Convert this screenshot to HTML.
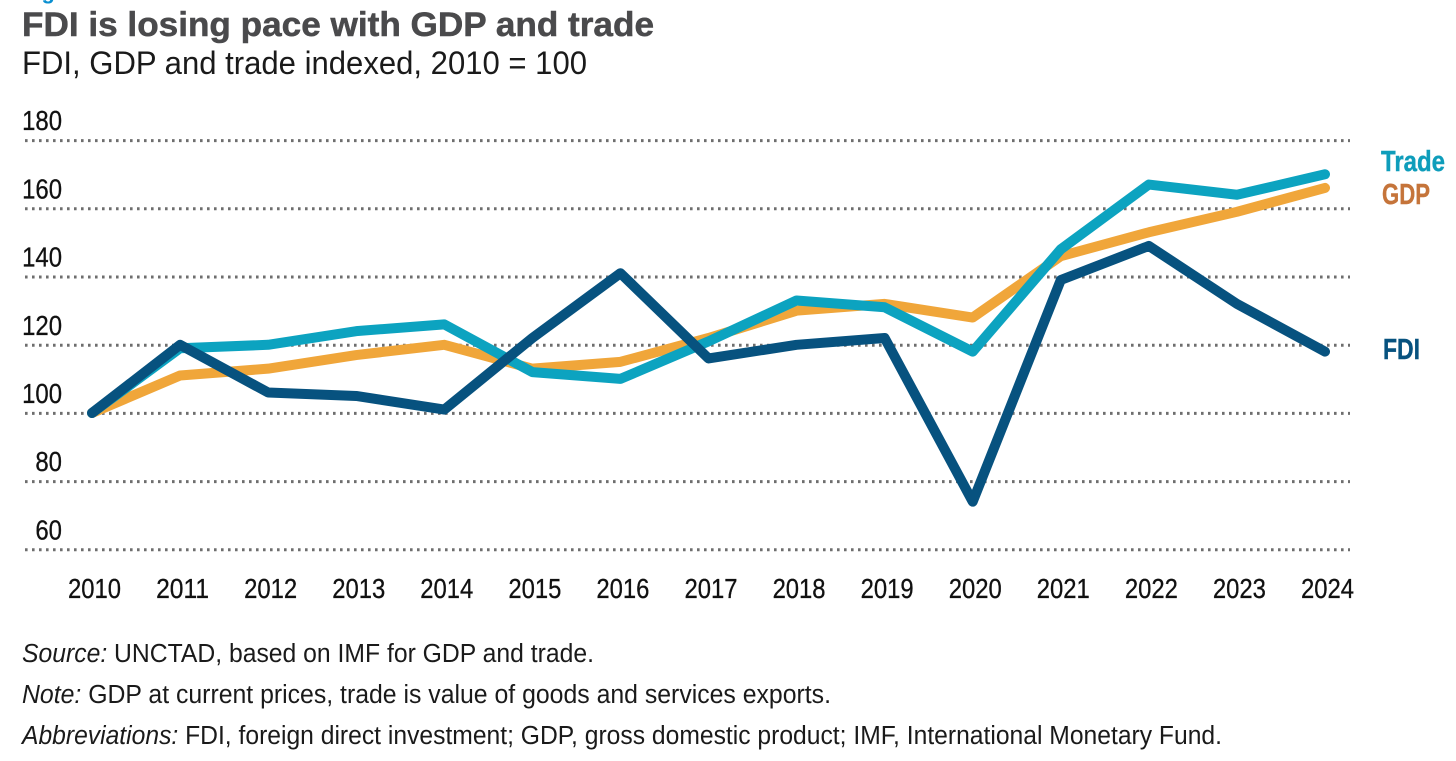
<!DOCTYPE html>
<html lang="en">
<head>
<meta charset="utf-8">
<title>FDI is losing pace with GDP and trade</title>
<style>
html,body{margin:0;padding:0;background:#fff;width:1456px;height:761px;overflow:hidden}
svg{display:block;font-family:"Liberation Sans",Arial,sans-serif}
</style>
</head>
<body>
<svg id="chart" width="1456" height="761" viewBox="0 0 1456 761" xmlns="http://www.w3.org/2000/svg">
  <text x="22" y="-1" font-size="22" font-weight="700" fill="#0a8fd0">Figure</text>
  <text x="22" y="36" font-size="34" font-weight="700" fill="#4a4a4c" stroke="#4a4a4c" stroke-width="0.5" textLength="632" lengthAdjust="spacingAndGlyphs">FDI is losing pace with GDP and trade</text>
  <text x="22" y="74" font-size="32" fill="#1a1a1a" textLength="565" lengthAdjust="spacingAndGlyphs">FDI, GDP and trade indexed, 2010 = 100</text>
  <g id="grid"></g>
  <g id="y-axis"></g>
  <g id="x-axis"></g>
  <g id="series"></g>
  <text x="1381" y="171" font-size="29" font-weight="700" fill="#0e9dbb" stroke="#0e9dbb" stroke-width="0.4" textLength="64" lengthAdjust="spacingAndGlyphs">Trade</text>
  <text x="1382" y="204" font-size="29" font-weight="700" fill="#c5743a" stroke="#c5743a" stroke-width="0.4" textLength="48" lengthAdjust="spacingAndGlyphs">GDP</text>
  <text x="1383" y="359" font-size="29" font-weight="700" fill="#07527f" stroke="#07527f" stroke-width="0.4" textLength="37" lengthAdjust="spacingAndGlyphs">FDI</text>
  <text x="22" y="662" font-size="25.5" fill="#1a1a1a" textLength="572" lengthAdjust="spacingAndGlyphs"><tspan font-style="italic">Source:</tspan> UNCTAD, based on IMF for GDP and trade.</text>
  <text x="22" y="703" font-size="25.5" fill="#1a1a1a" textLength="809" lengthAdjust="spacingAndGlyphs"><tspan font-style="italic">Note:</tspan> GDP at current prices, trade is value of goods and services exports.</text>
  <text x="22" y="744" font-size="25.5" fill="#1a1a1a" textLength="1200" lengthAdjust="spacingAndGlyphs"><tspan font-style="italic">Abbreviations:</tspan> FDI, foreign direct investment; GDP, gross domestic product; IMF, International Monetary Fund.</text>
</svg>
<script>
const years = ['2010','2011','2012','2013','2014','2015','2016','2017','2018','2019','2020','2021','2022','2023','2024'];
const yTicks = [60,80,100,120,140,160,180];
const gdpValues = [100,111,113,117,120,113,115,122,130,132,128,146,153,159,166];
const tradeValues = [100,119,120,124,126,112,110,121,133,131,118,148,167,164,170];
const fdiValues = [100,120,106,105,101,122,141,116,120,122,74,139,149,132,118];

const NS = 'http://www.w3.org/2000/svg';
function xScale(i){ return 92 + (1325 - 92) * i / (years.length - 1); }
function yScale(v){ return 413 - (v - 100) * 3.41; }

const grid = document.getElementById('grid');
const yAxis = document.getElementById('y-axis');
const xAxis = document.getElementById('x-axis');
const seriesGroup = document.getElementById('series');

yTicks.forEach(function(t){
  const line = document.createElementNS(NS,'line');
  
  
  line.setAttribute('x1', 25);
  line.setAttribute('x2', 1350);
  line.setAttribute('y1', yScale(t) + 0.4);
  line.setAttribute('y2', yScale(t) + 0.4);
  line.setAttribute('stroke', '#6e6e6e');
  line.setAttribute('stroke-width', 3);
  line.setAttribute('stroke-dasharray', '2.6 4.4');
  grid.appendChild(line);

  const label = document.createElementNS(NS,'text');
  
  
  label.setAttribute('x', 62);
  label.setAttribute('y', yScale(t) - 10);
  label.setAttribute('text-anchor', 'end');
  label.setAttribute('font-size', 28);
  label.setAttribute('fill', '#111');
  label.setAttribute('stroke', '#111');
  label.setAttribute('stroke-width', 0.3);
  label.setAttribute('textLength', String(t).length * 13.3);
  label.setAttribute('lengthAdjust', 'spacingAndGlyphs');
  label.textContent = t;
  yAxis.appendChild(label);
});

years.forEach(function(y,i){
  const label = document.createElementNS(NS,'text');
  
  
  label.setAttribute('x', xScale(i) + 2.5);
  label.setAttribute('y', 598);
  label.setAttribute('text-anchor', 'middle');
  label.setAttribute('font-size', 28);
  label.setAttribute('fill', '#111');
  label.setAttribute('stroke', '#111');
  label.setAttribute('stroke-width', 0.3);
  label.setAttribute('textLength', 53);
  label.setAttribute('lengthAdjust', 'spacingAndGlyphs');
  label.textContent = y;
  xAxis.appendChild(label);
});

function drawSeries(values, color, name, join){
  const path = document.createElementNS(NS,'polyline');
  
  
  path.setAttribute('points', values.map(function(v,i){ return xScale(i) + ',' + yScale(v); }).join(' '));
  path.setAttribute('fill', 'none');
  path.setAttribute('stroke', color);
  path.setAttribute('stroke-width', 10);
  path.setAttribute('stroke-linecap', 'round');
  path.setAttribute('stroke-linejoin', join);
  seriesGroup.appendChild(path);
}
drawSeries(gdpValues, '#f0a63a', 'gdp-line', 'round');
drawSeries(tradeValues, '#0ca3c0', 'trade-line', 'round');
drawSeries(fdiValues, '#07527f', 'fdi-line', 'round');
</script>
</body>
</html>
